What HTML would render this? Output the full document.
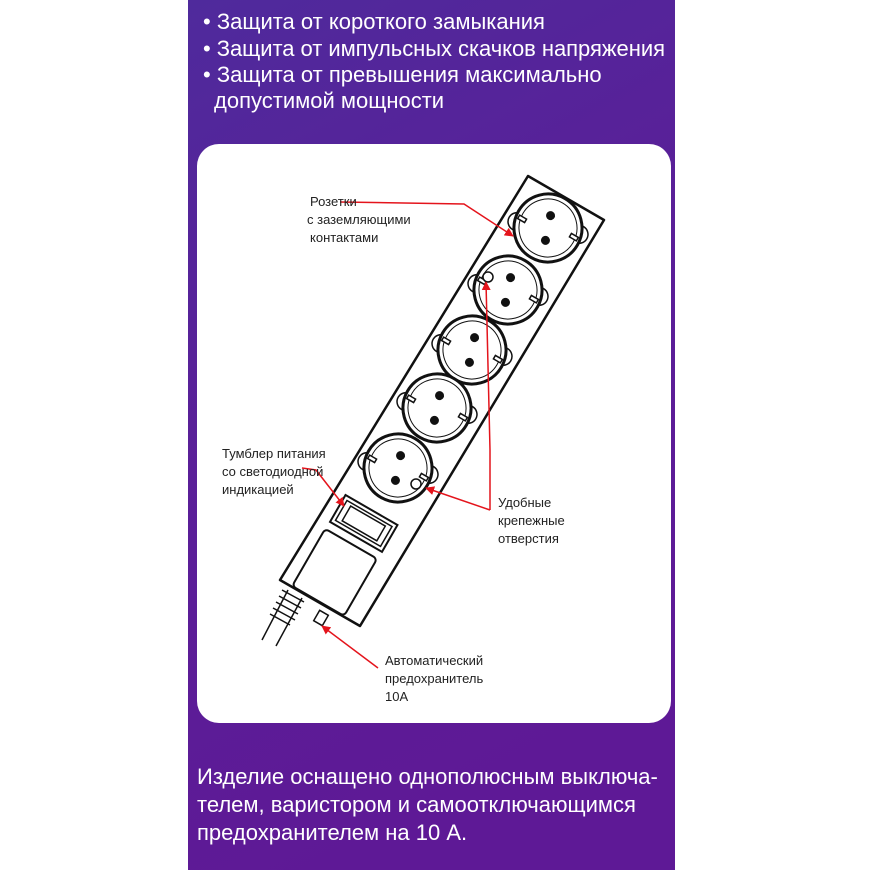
<!DOCTYPE html>
<html><head><meta charset="utf-8"><style>
html,body{margin:0;padding:0;width:870px;height:870px;background:#fff;overflow:hidden}
svg{display:block}
</style></head><body>
<svg width="870" height="870" viewBox="0 0 870 870" xmlns="http://www.w3.org/2000/svg">
<defs>
<linearGradient id="bg" x1="0" y1="0" x2="0.3" y2="1">
<stop offset="0" stop-color="#4f2a9c"/><stop offset="0.5" stop-color="#5a1f98"/><stop offset="1" stop-color="#5e1996"/>
</linearGradient>
<marker id="ah" viewBox="0 0 10 10" refX="9" refY="5" markerWidth="9" markerHeight="9" markerUnits="userSpaceOnUse" orient="auto-start-reverse">
<path d="M0,0 L10,5 L0,10 z" fill="#e4141c"/></marker>
<g id="s" stroke="#111" stroke-width="2" fill="#fff">
<circle cx="-30" cy="10" r="9" stroke-width="1.5"/><circle cx="30" cy="-10" r="9" stroke-width="1.5"/>
<circle cx="0" cy="0" r="34" stroke-width="3"/>
<circle cx="0" cy="0" r="29" stroke-width="1"/>
<circle cx="-4" cy="-12" r="3.5" fill="#111"/><circle cx="4" cy="12" r="3.5" fill="#111"/>
<rect x="-31" y="3" width="8" height="4" fill="#fff" stroke-width="1.5"/><rect x="23" y="-7" width="8" height="4" fill="#fff" stroke-width="1.5"/>
</g>
</defs>
<rect x="188" y="0" width="487" height="870" fill="url(#bg)"/>
<rect x="197" y="144" width="474" height="579" rx="22" fill="#fff"/>
<g font-family="Liberation Sans, sans-serif" fill="#fff" font-size="22">
<text x="203" y="29">• Защита от короткого замыкания</text>
<text x="203" y="56" textLength="462">• Защита от импульсных скачков напряжения</text>
<text x="203" y="82">• Защита от превышения максимально</text>
<text x="214" y="108">допустимой мощности</text>
<text x="197" y="784">Изделие оснащено однополюсным выключа-</text>
<text x="197" y="812">телем, варистором и самоотключающимся</text>
<text x="197" y="840">предохранителем на 10 А.</text>
</g>
<g stroke="#111" stroke-width="1.5" fill="none">
<line x1="288" y1="590" x2="262" y2="640"/><line x1="302" y1="598" x2="276" y2="646"/>
<path d="M282,590 l22,12 M279,596 l22,12 M276,602 l22,12 M273,608 l22,12 M270,614 l20,11"/>
<rect x="316" y="612" width="10" height="12" transform="rotate(30 321 618)"/>
</g>
<path d="M528,176 L604,220 L360,626 L280,580 Z" fill="#fff" stroke="#111" stroke-width="2.5" stroke-linejoin="round"/>
<use href="#s" transform="translate(548,228) rotate(30)"/>
<use href="#s" transform="translate(508,290) rotate(30)"/>
<use href="#s" transform="translate(472,350) rotate(30)"/>
<use href="#s" transform="translate(437,408) rotate(30)"/>
<use href="#s" transform="translate(398,468) rotate(30)"/>
<circle cx="488" cy="277" r="5" fill="#fff" stroke="#111" stroke-width="1.5"/>
<circle cx="416" cy="484" r="5" fill="#fff" stroke="#111" stroke-width="1.5"/>
<g stroke="#111" fill="#fff" transform="rotate(30 364 523)">
<rect x="334" y="508" width="60" height="31" stroke-width="2"/>
<rect x="338" y="512" width="52" height="23" stroke-width="1.5"/>
<rect x="344" y="515" width="40" height="17" stroke-width="1.5"/>
</g>
<rect x="305" y="540" width="60" height="66" rx="4" fill="#fff" stroke="#111" stroke-width="2" transform="rotate(30 336 572)"/>
<g stroke="#e4141c" stroke-width="1.5" fill="none">
<polyline points="340,202 464,204 513,236" marker-end="url(#ah)"/>
<polyline points="302,468 316,470 344,506" marker-end="url(#ah)"/>
<polyline points="490,510 426,488" marker-end="url(#ah)"/>
<polyline points="490,510 490,450 486,282" marker-end="url(#ah)"/>
<polyline points="378,668 322,626" marker-end="url(#ah)"/>
</g>
<g font-family="Liberation Sans, sans-serif" fill="#222" font-size="13">
<text x="310" y="206">Розетки</text>
<text x="307" y="224">с заземляющими</text>
<text x="310" y="242">контактами</text>
<text x="222" y="458">Тумблер питания</text>
<text x="222" y="476">со светодиодной</text>
<text x="222" y="494">индикацией</text>
<text x="498" y="507">Удобные</text>
<text x="498" y="525">крепежные</text>
<text x="498" y="543">отверстия</text>
<text x="385" y="665">Автоматический</text>
<text x="385" y="683">предохранитель</text>
<text x="385" y="701">10А</text>
</g>
</svg>
</body></html>
